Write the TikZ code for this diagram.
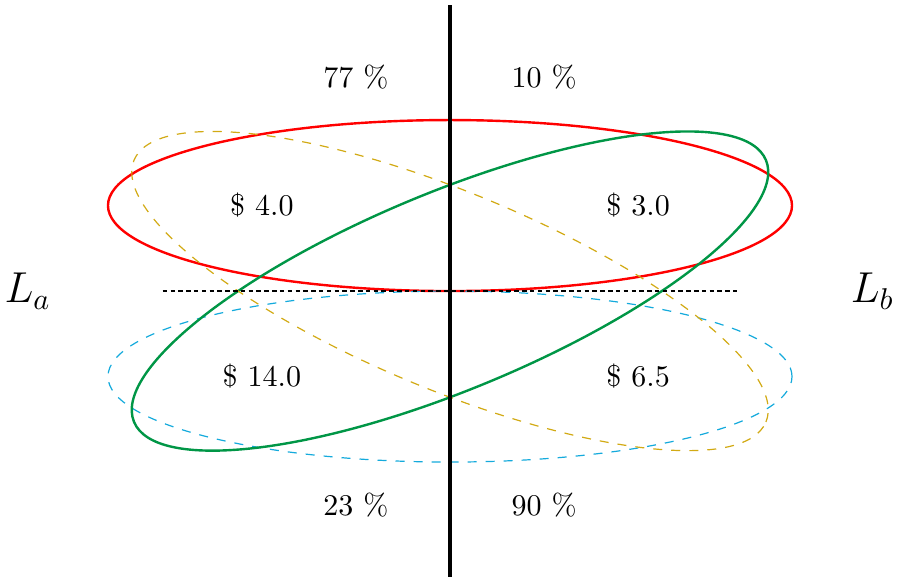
\documentclass[tikz,border=0pt]{standalone}
\usetikzlibrary{calc}
\definecolor{ringgreen}{RGB}{0,150,70}
\definecolor{ringcyan}{RGB}{20,170,220}
\definecolor{ringgold}{RGB}{210,170,20}
\tikzset{
  redring/.style={draw=red, thick},
  greenring/.style={draw=ringgreen, thick},
  cyanring/.style={draw=ringcyan, dashed},
  goldring/.style={draw=ringgold, dashed},
  axisline/.style={draw=black, ultra thick},
  midline/.style={draw=black, thick, dash pattern=on 1.5pt off 1.1pt},
  lbl/.style={inner sep=0pt},
  sidelbl/.style={inner sep=0pt, font=\Large}
}
\begin{document}
\begin{tikzpicture}
\useasboundingbox (-5.263,-3.357) rectangle (5.228,3.404);
% ellipses
\draw[redring] (0,1) ellipse (4cm and 1cm);
\draw[cyanring] (0,-1) ellipse (4cm and 1cm);
\draw[greenring, rotate=22.5] (0,0) ellipse (4cm and 1.156cm);
\draw[goldring, rotate=-22.5] (0,0) ellipse (4cm and 1.156cm);
% axes
\coordinate (ltop) at (0,3.34);
\coordinate (lbot) at (0,-3.35);
\coordinate (mleft) at (-3.36,0);
\coordinate (mright) at (3.36,0);
\draw[midline] (mleft) -- (mright);
\draw[axisline] (ltop) -- (lbot);
% labels
\node[lbl] (p77) at (-1.1,2.5) {77 \%};
\node[lbl] (p10) at (1.1,2.5) {10 \%};
\node[lbl] (d40) at (-2.2,1) {\$ 4.0};
\node[lbl] (d30) at (2.2,1) {\$ 3.0};
\node[lbl] (d140) at (-2.2,-1) {\$ 14.0};
\node[lbl] (d65) at (2.2,-1) {\$ 6.5};
\node[lbl] (p23) at (-1.1,-2.5) {23 \%};
\node[lbl] (p90) at (1.1,-2.5) {90 \%};
\node[sidelbl] (la) at (-4.94,0) {$L_a$};
\node[sidelbl] (lb) at (4.94,0) {$L_b$};
\end{tikzpicture}
\end{document}
